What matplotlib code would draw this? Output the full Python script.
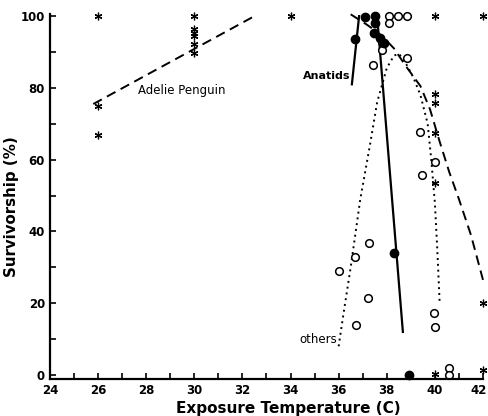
import matplotlib.pyplot as plt
from matplotlib.transforms import ScaledTranslation

# asterisks (Adelie penguin and other high-tolerance species)
star_t = [26, 26, 26, 30, 30, 30, 30, 30, 30, 34, 40, 42, 40, 40, 40, 40, 42, 42, 40]
star_s = [100, 75, 67, 100, 96.4, 95.3, 94.4, 92.2, 89.7, 100, 100, 100, 78.3, 75.8, 67.4, 53.5, 20, 1.4, 0.3]

# filled circles (Anatids)
anat_t = [36.68, 37.1, 37.5, 37.5, 37.45, 37.7, 37.9, 38.3, 38.92]
anat_s = [93.6, 99.7, 100, 98, 95.3, 93.8, 92.5, 34, 0]

# open circles (others)
oth_t = [38.1, 38.1, 38.45, 38.85, 37.8, 37.8, 37.43, 38.84, 39.38, 40.0, 39.46,
         37.26, 36.68, 36.0, 37.22, 36.72, 39.96, 40.0, 40.58, 40.58]
oth_s = [100, 98, 100, 100, 92.8, 90.5, 86.3, 88.3, 67.7, 59.3, 55.7,
         36.8, 32.9, 29, 21.4, 13.9, 17.3, 13.4, 1.9, 0]

# fitted curves
adelie_t = [25.8, 32.5]
adelie_s = [75.5, 100]
anat_left_t = [36.55, 36.85]
anat_left_s = [81, 100]
anat_right_t = [37.6, 38.67]
anat_right_s = [100, 12]
dash_t = [36.5, 37.2, 37.8, 38.3, 38.8, 39.4, 39.8, 40.2, 40.6, 41.0, 41.5, 42.0]
dash_s = [100.5, 97.5, 94.5, 91, 86, 80.5, 74, 65, 56.5, 49, 39, 26.5]
dot_t = [36.0, 36.2, 36.5, 36.9, 37.3, 37.6, 38.0, 38.3, 38.5, 38.7, 39.1, 39.4, 39.7, 39.85, 40.0, 40.1, 40.2]
dot_s = [8, 17, 30, 49, 64, 76, 85.5, 89, 89.5, 88, 83, 78, 70, 60, 48, 35, 20]

plt.rcParams['font.family'] = 'DejaVu Sans'

fig = plt.figure(figsize=(4.89, 4.16), dpi=100)
ax = fig.add_axes([0.1022, 0.0882, 0.8855, 0.8774])

ax.plot(adelie_t, adelie_s, color='black', lw=1.4, dashes=(5, 3))
ax.plot(dash_t, dash_s, color='black', lw=1.4, dashes=(5, 3), clip_on=False)
ax.plot(dot_t, dot_s, color='black', lw=1.4, linestyle=(0, (1, 2)))
ax.plot(anat_left_t, anat_left_s, color='black', lw=1.6)
ax.plot(anat_right_t, anat_right_s, color='black', lw=1.6)

ax.plot(star_t, star_s, linestyle='none', marker=(6, 2, 0), ms=5.5, mew=0.9,
        color='black', clip_on=False)
ax.plot(oth_t, oth_s, linestyle='none', marker='o', ms=5.5, mfc='white',
        mec='black', mew=1.1, clip_on=False)
ax.plot(anat_t, anat_s, linestyle='none', marker='o', ms=6, color='black',
        clip_on=False)

ax.text(27.66, 79.4, 'Adelie Penguin', fontsize=8.5, va='center', ha='left')
ax.text(34.52, 83.3, 'Anatids', fontsize=8, fontweight='bold', va='center', ha='left')
ax.text(34.35, 10, 'others', fontsize=8.5, va='center', ha='left')

ax.set_xlim(24, 42)
ax.set_ylim(-1.2, 100.5)
ax.set_xticks(range(24, 43, 2))
ax.set_xticks(range(25, 42, 2), minor=True)
ax.set_yticks(range(0, 101, 20))
ax.set_yticks(range(10, 100, 20), minor=True)
ax.tick_params(direction='in', length=4, width=1.2, labelsize=8.5)
ax.tick_params(which='minor', direction='in', length=4, width=1.2)
for lab in ax.get_xticklabels() + ax.get_yticklabels():
    lab.set_fontweight('bold')

# nudge the last x label so it stays inside the figure
last = ax.get_xticklabels()[-1]
last.set_transform(last.get_transform() + ScaledTranslation(-4 / 100, 0, fig.dpi_scale_trans))

for s in ['top', 'right']:
    ax.spines[s].set_visible(False)
for s in ['left', 'bottom']:
    ax.spines[s].set_linewidth(1.6)

ax.set_xlabel('Exposure Temperature (C)', fontsize=11, fontweight='bold')
ax.set_ylabel('Survivorship (%)', fontsize=10.8, fontweight='bold')
ax.xaxis.set_label_coords(0.551, -0.06)
ax.yaxis.set_label_coords(-0.071, 0.472)

fig.savefig('out.png', dpi=100)
